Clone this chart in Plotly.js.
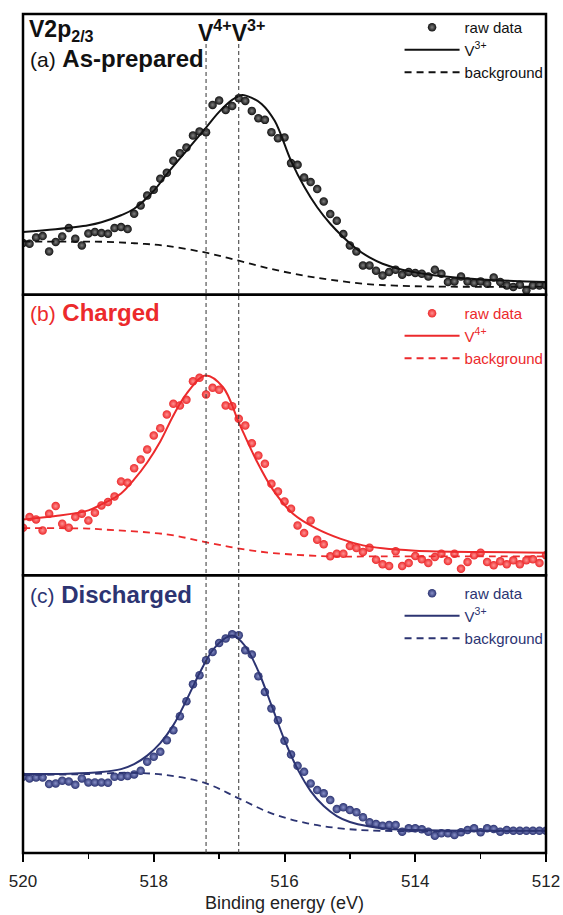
<!DOCTYPE html>
<html><head><meta charset="utf-8">
<script src="https://cdn.plot.ly/plotly-3.0.1.min.js"></script>
<style>html,body{margin:0;padding:0;background:#fff}#chart{width:563px;height:915px}</style>
</head><body><div id="chart"></div>
<script>
// Binding energy grid of raw data (eV)
const energy = [520.0,519.9,519.8,519.7,519.6,519.5,519.4,519.3,519.2,519.1,
 519.0,518.9,518.8,518.7,518.6,518.5,518.4,518.3,518.2,518.1,
 518.0,517.9,517.8,517.7,517.6,517.5,517.4,517.3,517.2,517.1,
 517.0,516.9,516.8,516.7,516.6,516.5,516.4,516.3,516.2,516.1,
 516.0,515.9,515.8,515.7,515.6,515.5,515.4,515.3,515.2,515.1,
 515.0,514.9,514.8,514.7,514.6,514.5,514.4,514.3,514.2,514.1,
 514.0,513.9,513.8,513.7,513.6,513.5,513.4,513.3,513.2,513.1,
 513.0,512.9,512.8,512.7,512.6,512.5,512.4,512.3,512.2,512.1,512.0];

// (a) As-prepared
const rawA = [51.7,51.0,57.3,58.7,43.3,52.7,58.3,66.7,56.0,49.3,
 61.3,62.7,61.7,61.0,66.7,67.7,65.7,81.0,89.3,99.3,
 105.0,116.0,122.0,134.0,141.7,147.3,159.3,163.3,162.7,190.0,
 194.3,185.0,189.0,196.7,194.0,184.0,176.7,175.0,162.7,156.7,
 157.3,131.7,130.0,117.3,112.7,105.7,93.3,80.7,74.0,60.7,
 49.3,43.3,29.3,29.3,24.0,19.3,22.7,25.0,20.0,22.7,
 21.7,21.0,18.3,25.0,21.0,12.7,13.3,18.3,13.3,11.7,
 13.3,11.0,17.3,12.7,9.3,7.7,10.0,4.3,9.3,9.3,9.3];
const fitAx = [520.0,519.5,519.0,518.8,518.5,518.3,518.0,517.8,517.5,517.2,517.0,516.8,516.65,516.5,516.35,516.15,515.9,515.7,515.5,515.3,515.1,514.9,514.7,514.5,514.2,513.9,513.5,513.0,512.5,512.0];
const fitAy = [62.7,65.5,69.5,72.5,79.5,86,104,120.7,144,167.3,183,195,200,197,191,174,134,108.3,87.5,71,57.5,46,37.3,31,25,21.3,18,15.3,13.7,12.7];
const bgAx = [520.0,519.3,518.8,518.3,517.8,517.2,516.7,516.2,515.7,515.3,514.8,514.3,513.5,512.0];
const bgAy = [53.3,53,53,51.5,48.8,42,34,25.7,19,15,11,9,8,8];

// (b) Charged
const rawB = [47.7,58.3,56.0,45.0,61.7,69.3,51.7,47.7,58.3,61.7,
 55.0,62.7,70.0,73.3,79.0,94.0,92.7,107.3,116.0,126.0,
 140.0,147.3,161.0,171.7,170.0,175.7,194.3,197.7,181.0,187.7,
 185.7,170.0,169.3,156.7,150.0,132.3,120.0,111.7,91.7,84.0,
 74.0,66.7,50.0,42.3,55.0,35.7,31.0,19.0,21.7,21.7,
 29.3,27.3,23.3,27.7,15.7,11.0,9.3,24.0,9.3,12.3,
 19.3,16.0,12.3,18.3,21.7,14.3,21.7,6.7,13.3,20.0,
 22.7,13.3,10.0,14.0,11.0,15.0,11.0,15.0,16.0,12.3,20.0];
const fitBx = [520.0,519.5,519.0,518.8,518.5,518.3,518.1,517.9,517.7,517.5,517.21,516.94,516.69,516.43,516.17,515.87,515.51,515.15,514.8,514.5,514.0,513.0,512.0];
const fitBy = [56,59.3,65,71,82,96,113,134,160,181.7,200,188.3,151.7,115,85,61.7,46.7,36.7,30,27,24.7,23.3,22.7];
const bgBx = [520.0,519.0,518.8,517.8,517.21,516.69,516.17,515.3,514.5,512.0];
const bgBy = [47.3,46.8,46,41,33.3,26.7,22.3,19,19,19];

// (c) Discharged
const rawC = [76.3,74.7,75.7,75.7,69.0,69.7,72.3,71.7,68.3,74.7,
 70.7,70.7,70.7,70.3,76.3,76.3,77.0,78.7,82.3,91.3,
 96.3,101.3,113.0,123.0,137.0,152.0,169.0,178.0,193.0,201.3,
 210.3,214.7,219.0,218.0,203.0,198.7,177.0,161.3,144.7,133.0,
 112.3,98.7,87.3,81.3,69.7,63.0,59.7,53.0,44.0,45.7,
 43.0,40.7,35.7,30.7,29.0,27.3,28.0,28.0,21.3,24.7,
 24.7,23.7,21.3,17.3,19.7,19.7,18.0,20.7,23.0,24.7,
 20.7,24.7,24.0,21.3,23.0,22.3,22.3,22.3,22.3,22.3,22.3];
const fitCx = [520.0,519.3,518.8,518.5,518.3,518.1,517.9,517.7,517.5,517.3,517.1,516.9,516.78,516.6,516.4,516.2,516.0,515.8,515.6,515.4,515.2,515.0,514.7,514.4,514.0,513.0,512.0];
const fitCy = [79,79.3,81,84,89,97.5,110,128,153,180,203,215.5,217.5,207,182,148,113,84,62,47,37,31,26.5,24,23,22.3,22.3];
const bgCx = [520.0,519.0,518.4,517.8,517.2,516.7,516.2,515.65,515.15,514.55,512.0];
const bgCy = [78,79,80.3,78,69.7,54.7,39.7,29.7,24.7,22.3,22.3];

// reference lines and labels
const refLines = [517.2, 516.7];
const xTicks = [520, 518, 516, 514, 512];
const panelNames = ['As-prepared', 'Charged', 'Discharged'];
const panelTags = ['(a)', '(b)', '(c)'];
const fitNames = ['V<sup>3+</sup>', 'V<sup>4+</sup>', 'V<sup>3+</sup>'];

const colors = ['#111111', '#ec2a2c', '#2c3472'];
const grads = ['#808080', '#ff9090', '#8890c8'];
const yAx = ['y', 'y2', 'y3'];
const legs = ['legend', 'legend2', 'legend3'];
const raws = [rawA, rawB, rawC];
const fits = [[fitAx, fitAy], [fitBx, fitBy], [fitCx, fitCy]];
const bgs = [[bgAx, bgAy], [bgBx, bgBy], [bgCx, bgCy]];

const traces = [];
for (let p = 0; p < 3; p++) {
  traces.push({x: energy, y: raws[p], type: 'scatter', mode: 'markers', name: 'raw data',
    xaxis: 'x', yaxis: yAx[p], legend: legs[p],
    marker: {color: colors[p], size: 8.5, line: {width: 0}, gradient: {type: 'radial', color: grads[p]}}});
  traces.push({x: fits[p][0], y: fits[p][1], type: 'scatter', mode: 'lines', name: fitNames[p],
    xaxis: 'x', yaxis: yAx[p], legend: legs[p],
    line: {color: colors[p], width: 2, shape: 'spline', smoothing: 1}});
  traces.push({x: bgs[p][0], y: bgs[p][1], type: 'scatter', mode: 'lines', name: 'background',
    xaxis: 'x', yaxis: yAx[p], legend: legs[p],
    line: {color: colors[p], width: 1.8, dash: '7px,5px', shape: 'spline', smoothing: 1}});
}

const H = 840, B = 853;
const py = v => (B - v) / H;
const doms = [[py(294), 1], [py(575), py(294)], [0, py(575)]];

const shapes = [];
doms.forEach(d => shapes.push({type: 'rect', xref: 'paper', yref: 'paper', x0: 0, x1: 1, y0: d[0], y1: d[1],
  line: {color: '#000', width: 2.5}, layer: 'above'}));
refLines.forEach(v => shapes.push({type: 'line', xref: 'x', yref: 'paper', x0: v, x1: v, y0: 0, y1: py(40),
  line: {color: '#333', width: 1, dash: '4px,3px'}, layer: 'above'}));

const FONT = 'Liberation Sans, Arial, sans-serif';
const annotations = [
  {text: '<b>V2p<sub>2/3</sub></b>', xref: 'paper', yref: 'paper', x: 0.007, y: py(13), xanchor: 'left', yanchor: 'top',
   showarrow: false, font: {size: 23, color: '#111', family: FONT}},
  {text: '<b>V<sup>4+</sup>V<sup>3+</sup></b>', xref: 'paper', yref: 'paper', x: (231 - 23) / 523, y: py(30), xanchor: 'center', yanchor: 'middle',
   showarrow: false, font: {size: 23, color: '#111', family: FONT}}
];
const tagY = [58, 312, 594];
for (let p = 0; p < 3; p++) {
  annotations.push({text: '<span style="font-size:21px">' + panelTags[p] + '</span> <b>' + panelNames[p] + '</b>',
    xref: 'paper', yref: 'paper', x: 0.009, y: py(tagY[p]), xanchor: 'left', yanchor: 'middle', showarrow: false,
    font: {size: 24, color: colors[p], family: FONT}});
}

const legTop = [11, 297, 577];
const layout = {
  width: 563, height: 915,
  margin: {l: 23, r: 17, t: 13, b: 62},
  paper_bgcolor: '#fff', plot_bgcolor: '#fff',
  font: {family: FONT, color: '#222'},
  showlegend: true,
  xaxis: {range: [520, 512], anchor: 'y3', domain: [0, 1], tickvals: xTicks, ticks: 'outside', ticklen: 8, tickwidth: 2,
    tickcolor: '#000', showline: false, showgrid: false, zeroline: false, tickfont: {size: 17, color: '#222'},
    ticklabelstandoff: 5,
    minor: {dtick: 1, tick0: 512, ticks: 'outside', ticklen: 5, tickwidth: 1.5, tickcolor: '#000', showgrid: false},
    title: {text: 'Binding energy (eV)', font: {size: 18, color: '#222'}, standoff: 5}},
  shapes: shapes,
  annotations: annotations
};
const ranges = [[0, 281], [0, 281], [0, 278]];
['yaxis', 'yaxis2', 'yaxis3'].forEach((k, i) => {
  layout[k] = {domain: doms[i], range: ranges[i], anchor: 'x', showticklabels: false, ticks: '', showgrid: false,
    zeroline: false, showline: false, fixedrange: true};
});
legs.forEach((k, i) => {
  layout[k] = {x: 0.72, xanchor: 'left', y: py(legTop[i]), yanchor: 'top', bgcolor: 'rgba(0,0,0,0)',
    font: {size: 15, color: colors[i]}, itemwidth: 55, tracegroupgap: 0, traceorder: 'normal'};
});

Plotly.newPlot('chart', traces, layout, {staticPlot: true, displayModeBar: false});
</script></body></html>
